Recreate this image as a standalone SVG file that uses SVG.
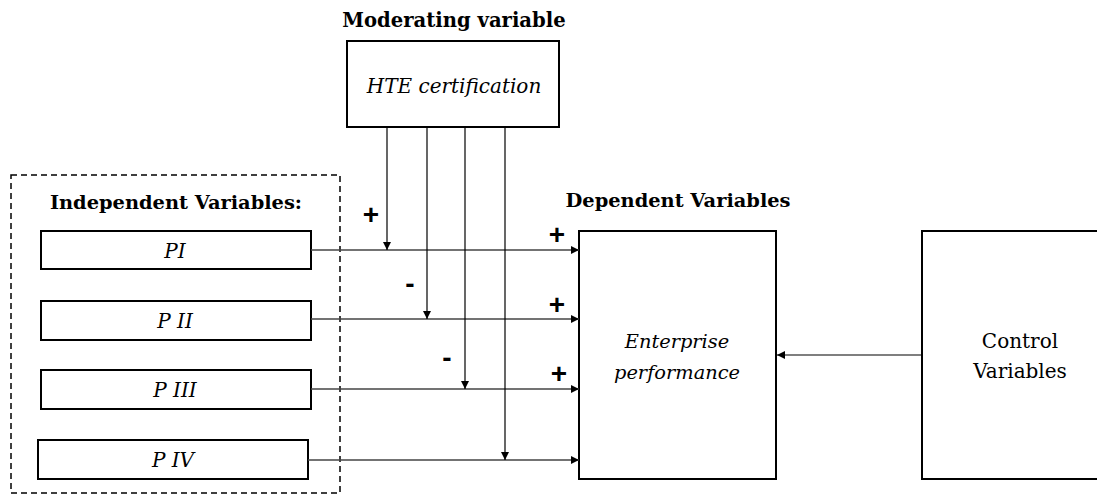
<svg xmlns="http://www.w3.org/2000/svg" width="1097" height="495" viewBox="0 0 1097 495">
  <defs>
    <marker id="tip" viewBox="0 0 10 10" refX="10" refY="5" markerWidth="9" markerHeight="8" markerUnits="userSpaceOnUse" orient="auto">
      <path d="M0,0 L10,5 L0,10 Z" fill="#000"/>
    </marker>
    <style>
      .box { fill: #fff; stroke: #000; stroke-width: 2; }
      .group { fill: none; stroke: #000; stroke-width: 1.5; stroke-dasharray: 6 4; }
      .h { stroke: #444; stroke-width: 1.4; fill: none; marker-end: url(#tip); }
      .v { stroke: #000; stroke-width: 1.2; fill: none; marker-end: url(#tip); }
    </style>
  </defs>
  <rect width="1097" height="495" fill="#fff"/>

  <g font-family="DejaVu Serif, Liberation Serif, serif" fill="#000" text-anchor="middle">
  <!-- independent variables group -->
  <g id="independent">
    <rect class="group" x="11" y="175" width="329" height="318"/>
    <text x="176" y="209" font-weight="bold" font-size="19.4">Independent Variables:</text>
  </g>
  <g id="p1" font-style="italic" font-size="20">
    <rect class="box" x="41" y="231" width="270" height="38"/>
    <text x="175" y="258">PI</text>
  </g>
  <g id="p2" font-style="italic" font-size="20">
    <rect class="box" x="41" y="301" width="270" height="39"/>
    <text x="175" y="328">P II</text>
  </g>
  <g id="p3" font-style="italic" font-size="20">
    <rect class="box" x="41" y="370" width="270" height="39"/>
    <text x="175" y="397">P III</text>
  </g>
  <g id="p4" font-style="italic" font-size="20">
    <rect class="box" x="38" y="440" width="270" height="39"/>
    <text x="173" y="467">P IV</text>
  </g>

  <!-- moderator -->
  <g id="moderator" font-size="20">
    <text x="454" y="27" font-weight="bold" font-size="19.6">Moderating variable</text>
    <rect class="box" x="347" y="41" width="212" height="86"/>
    <text x="454" y="93" font-style="italic">HTE certification</text>
  </g>

  <!-- outcome -->
  <g id="outcome" font-size="20">
    <text x="678" y="207" font-weight="bold" font-size="19.4">Dependent Variables</text>
    <rect class="box" x="579" y="231" width="197" height="248"/>
    <text x="677" y="348" font-style="italic" font-size="19.4">Enterprise</text>
    <text x="677" y="379" font-style="italic" font-size="19.4">performance</text>
  </g>

  <!-- controls -->
  <g id="controls" font-size="20">
    <rect class="box" x="922" y="231" width="185" height="248"/>
    <text x="1020" y="348">Control</text>
    <text x="1020" y="378">Variables</text>
  </g>
  </g>

  <!-- connectors -->
  <g id="connectors">
    <line class="h" x1="311" y1="250" x2="579" y2="250"/>
    <line class="h" x1="311" y1="319" x2="579" y2="319"/>
    <line class="h" x1="311" y1="389" x2="579" y2="389"/>
    <line class="h" x1="308" y1="460" x2="579" y2="460"/>
    <line class="v" x1="387" y1="127" x2="387" y2="250"/>
    <line class="v" x1="427" y1="127" x2="427" y2="319"/>
    <line class="v" x1="465" y1="127" x2="465" y2="389"/>
    <line class="v" x1="505" y1="127" x2="505" y2="460"/>
    <line class="v" x1="922" y1="355" x2="777" y2="355"/>
  </g>

  <!-- effect signs -->
  <g id="signs" font-family="Liberation Sans, Arial, sans-serif" font-weight="bold" font-size="28" text-anchor="middle" fill="#000">
    <text x="371" y="224">+</text>
    <text x="410" y="293">-</text>
    <text x="447" y="367">-</text>
    <text x="557" y="244">+</text>
    <text x="557" y="314">+</text>
    <text x="559" y="383">+</text>
  </g>
</svg>
